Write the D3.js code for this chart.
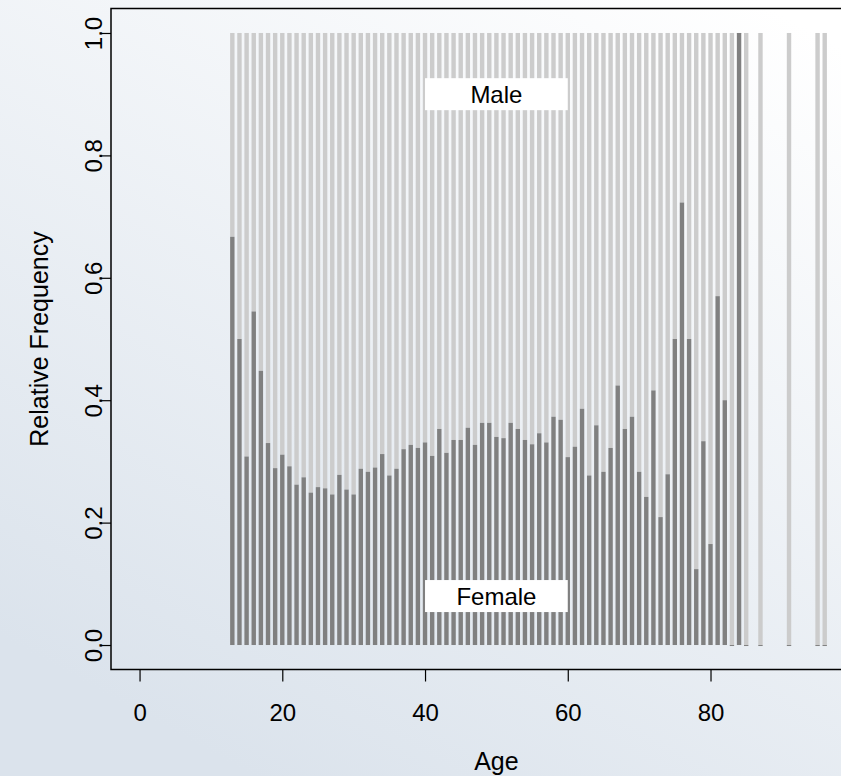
<!DOCTYPE html>
<html>
<head>
<meta charset="utf-8">
<script src="https://cdn.jsdelivr.net/npm/d3@7"></script>
<style>
  html, body { margin: 0; padding: 0; overflow: hidden; }
  svg { display: block; font-family: "Liberation Sans", Arial, sans-serif; }
</style>
</head>
<body>
<div id="chart"></div>
<script>
// ages that occur in the data
var ages = [13, 14, 15, 16, 17, 18, 19, 20, 21, 22, 23, 24, 25, 26, 27, 28, 29, 30,
  31, 32, 33, 34, 35, 36, 37, 38, 39, 40, 41, 42, 43, 44, 45, 46, 47, 48, 49, 50,
  51, 52, 53, 54, 55, 56, 57, 58, 59, 60, 61, 62, 63, 64, 65, 66, 67, 68, 69, 70,
  71, 72, 73, 74, 75, 76, 77, 78, 79, 80, 81, 82, 83, 84, 85, 87, 91, 95, 96]

// share of females at each age (rest is male)
var femaleShare = [0.667, 0.500, 0.308, 0.545, 0.448, 0.330, 0.289, 0.311, 0.292, 0.262,
  0.274, 0.249, 0.258, 0.256, 0.246, 0.278, 0.254, 0.246,
  0.288, 0.283, 0.290, 0.312, 0.277, 0.288, 0.320, 0.327, 0.322, 0.331,
  0.309, 0.353, 0.314, 0.335, 0.335, 0.355, 0.327, 0.363, 0.363, 0.340,
  0.338, 0.363, 0.353, 0.335, 0.328, 0.346, 0.331, 0.373, 0.368, 0.307,
  0.324, 0.386, 0.277, 0.359, 0.283, 0.322, 0.424, 0.353, 0.373, 0.283,
  0.242, 0.416, 0.209, 0.279, 0.500, 0.723, 0.500, 0.124, 0.333, 0.165,
  0.570, 0.400, 0, 1, 0, 0, 0, 0, 0]

var xTicks = [0, 20, 40, 60, 80]
var yTicks = [0, 0.2, 0.4, 0.6, 0.8, 1.0]
var labels = [{text: "Male", y: 0.9}, {text: "Female", y: 0.08}]

var width = 841
var height = 776

var svg = d3.select("#chart")
    .append("svg")
    .attr("width", width)
    .attr("height", height)

// soft background gradient
var grad = svg.append("defs").append("linearGradient")
    .attr("id", "bg")
    .attr("x1", "0.9").attr("y1", "0")
    .attr("x2", "0.3").attr("y2", "1")
grad.append("stop").attr("offset", "0").attr("stop-color", "#ffffff")
grad.append("stop").attr("offset", "1").attr("stop-color", "#dbe3ec")

svg.append("rect")
    .attr("width", width)
    .attr("height", height)
    .attr("fill", "url(#bg)")

// plot region: xlim 0..100, ylim 0..1, with 4% padding like R
var x = d3.scaleLinear().domain([-4, 104]).range([111, 881.8])
var y = d3.scaleLinear().domain([-0.04, 1.04]).range([669.5, 8.5])

var rows = ages.map(function (a, i) {
    return {age: a, female: femaleShare[i], male: 1 - femaleShare[i]}
})
var stacked = d3.stack().keys(["female", "male"])(rows)
var color = d3.scaleOrdinal().domain(["female", "male"]).range(["#808080", "#cccccc"])

var barW = 4.4

svg.selectAll("g.layer")
    .data(stacked.slice().reverse())
    .enter()
    .append("g")
    .attr("class", "layer")
    .attr("fill", function (d) { return color(d.key) })
    .selectAll("rect")
    .data(function (d) { return d })
    .enter()
    .append("rect")
    .attr("x", function (d) { return x(d.data.age) - barW / 2 })
    .attr("width", barW)
    .attr("y", function (d) { return y(d[1]) })
    .attr("height", function (d) { return Math.max(1, y(d[0]) - y(d[1])) })

// white label boxes
var lab = svg.selectAll("g.lab")
    .data(labels)
    .enter()
    .append("g")
    .attr("class", "lab")
lab.append("rect")
    .attr("x", x(40))
    .attr("width", x(60) - x(40))
    .attr("y", function (d) { return y(d.y) - 16 })
    .attr("height", 32)
    .attr("fill", "white")
lab.append("text")
    .attr("x", x(50))
    .attr("y", function (d) { return y(d.y) + 8.5 })
    .attr("text-anchor", "middle")
    .attr("font-size", 24)
    .attr("fill", "black")
    .text(function (d) { return d.text })

// box round the plot
svg.append("rect")
    .attr("x", x(-4))
    .attr("y", y(1.04))
    .attr("width", x(104) - x(-4))
    .attr("height", y(-0.04) - y(1.04))
    .attr("fill", "none")
    .attr("stroke", "black")
    .attr("stroke-width", 1.5)

// x axis
var xAxis = svg.append("g")
    .attr("transform", "translate(0," + y(-0.04) + ")")
    .call(d3.axisBottom(x).tickValues(xTicks).tickSize(12).tickPadding(22).tickFormat(d3.format("d")))
xAxis.select(".domain").remove()
xAxis.selectAll("line").attr("stroke", "black").attr("stroke-width", 1.2)
xAxis.selectAll("text").attr("font-size", 24).attr("fill", "black")
    .attr("font-family", "Liberation Sans, Arial, sans-serif")

// y axis, labels turned like R does
var yAxis = svg.append("g")
    .attr("transform", "translate(" + x(-4) + ",0)")
    .call(d3.axisLeft(y).tickValues(yTicks).tickSize(11).tickFormat(d3.format(".1f")))
yAxis.select(".domain").remove()
yAxis.selectAll("line").attr("stroke", "black").attr("stroke-width", 1.2)
yAxis.selectAll("text")
    .attr("font-size", 24).attr("fill", "black")
    .attr("font-family", "Liberation Sans, Arial, sans-serif")
    .attr("x", null).attr("dy", null)
    .attr("text-anchor", "middle")
    .attr("transform", "translate(-9,0) rotate(-90)")

svg.append("text")
    .attr("x", x(50))
    .attr("y", 770)
    .attr("text-anchor", "middle")
    .attr("font-size", 25)
    .text("Age")

svg.append("text")
    .attr("transform", "translate(48," + y(0.5) + ") rotate(-90)")
    .attr("text-anchor", "middle")
    .attr("font-size", 25)
    .text("Relative Frequency")
</script>
</body>
</html>
